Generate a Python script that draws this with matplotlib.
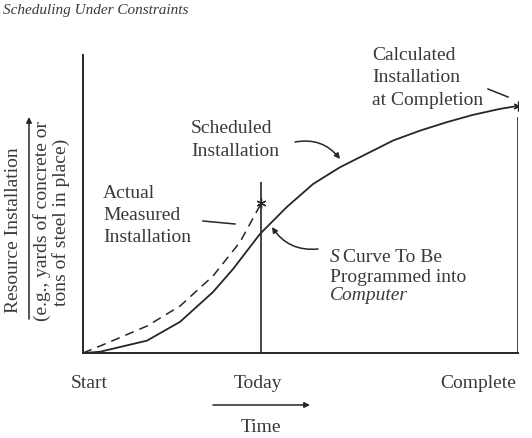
import matplotlib
matplotlib.use("Agg")
import matplotlib.pyplot as plt

# === Data: time as % of duration, installation as % of final quantity
sched_time = [0, 3.9, 14.7, 22.3, 29.9, 34.5, 40.7, 46.8, 52.9, 59.1, 65.2,
              71.3, 77.5, 83.6, 89.7, 95.9, 100]
sched_install = [0, 0.5, 5.0, 12.6, 24.7, 34.0, 48.2, 59.0, 68.4, 75.2, 80.6,
                 86.0, 90.0, 93.4, 96.4, 98.8, 100]
actual_time = [0, 3.9, 14.7, 22.3, 29.9, 36.1, 41]
actual_install = [0, 2.8, 10.9, 19.0, 31.2, 44.9, 60.7]
today = 41
complete = 100
today_line_top = 69.2
complete_line_top = 95.5
milestones = ["Start", "Today", "Complete"]

ink = "#262626"
txt = "#3a3a3a"
plt.rcParams["font.family"] = ["Liberation Serif", "DejaVu Serif"]

fig = plt.figure(figsize=(5.32, 4.39), dpi=100)
fig.patch.set_facecolor("white")

# === Main chart area
ax = fig.add_axes([83 / 532, 1 - 354 / 439, 435 / 532, 298 / 439])
ax.set_xlim(0, 100)
ax.set_ylim(0, 120.6)
ax.plot(sched_time, sched_install, color=ink, lw=1.3, solid_capstyle="round",
        solid_joinstyle="round")
ax.plot(actual_time, actual_install, color=ink, lw=1.1, linestyle=(0, (6, 4)))
ax.plot([actual_time[-1], sched_time[-1]], [actual_install[-1], sched_install[-1]],
        linestyle="none", marker=(6, 2, 0), markersize=7, color=ink, mew=0.9)
ax.vlines([today], 0, today_line_top, color=ink, lw=1.2)
ax.vlines([complete], 0, complete_line_top, color=ink, lw=1.2)
for s in ["top", "right"]:
    ax.spines[s].set_visible(False)
for s in ["left", "bottom"]:
    ax.spines[s].set_color(ink)
    ax.spines[s].set_linewidth(1.4)
ax.set_xticks([])
ax.set_yticks([])
ax.patch.set_alpha(0)

# === Overlay in pixel coordinates for the labels and pointers
ov = fig.add_axes([0, 0, 1, 1])
ov.set_xlim(0, 532)
ov.set_ylim(439, 0)
ov.axis("off")
ov.patch.set_alpha(0)

fs = 14


def block(x, baselines, lines, style="normal"):
    for b, line in zip(baselines, lines):
        ov.text(x, b, line, fontsize=fs, color=txt, va="baseline", ha="left", style=style)


ov.text(3, 14, "Scheduling Under Constraints", fontsize=11, style="italic",
        color=txt, va="baseline")

block(372, [60, 82.5, 105], ["Calculated", "Installation", "at Completion"])
block(191, [133, 156.5], ["Scheduled", "Installation"])
block(103, [198, 220, 242], ["Actual", "Measured", "Installation"])
ov.text(330, 262.5, "S", fontsize=fs, color=txt, va="baseline", style="italic")
block(343, [262.5], ["Curve To Be"])
block(330, [282.5], ["Programmed into"])
block(330, [300.5], ["Computer"], style="italic")

for name, cx in zip(milestones, [89, 258, 478]):
    ov.text(cx, 388, name, fontsize=fs, color=txt, ha="center", va="baseline")
ov.text(261, 432, "Time", fontsize=fs, color=txt, ha="center", va="baseline")

ov.text(14, 230, "Resource Installation", fontsize=fs, color=txt, rotation=90,
        ha="center", va="center")
ov.text(42, 221, "(e.g., yards of concrete or", fontsize=fs, color=txt, rotation=90,
        ha="center", va="center")
ov.text(61, 222, "tons of steel in place)", fontsize=fs, color=txt, rotation=90,
        ha="center", va="center")

head = dict(arrowstyle="-|>", color=ink, lw=1.1, shrinkA=0, shrinkB=0, mutation_scale=8)
ov.annotate("", xy=(310, 406), xytext=(213, 406), arrowprops=head)
ov.annotate("", xy=(29, 118), xytext=(29, 320), arrowprops=head)

curved = dict(head, connectionstyle="arc3,rad=-0.3")
ov.annotate("", xy=(340, 160), xytext=(295, 143), arrowprops=curved)
ov.annotate("", xy=(272, 228), xytext=(318, 250), arrowprops=curved)

ov.plot([203, 235], [222, 225], color=ink, lw=1.1)
ov.plot([488, 508], [90, 98], color=ink, lw=1.1)

fig.savefig("out.png", dpi=100)
